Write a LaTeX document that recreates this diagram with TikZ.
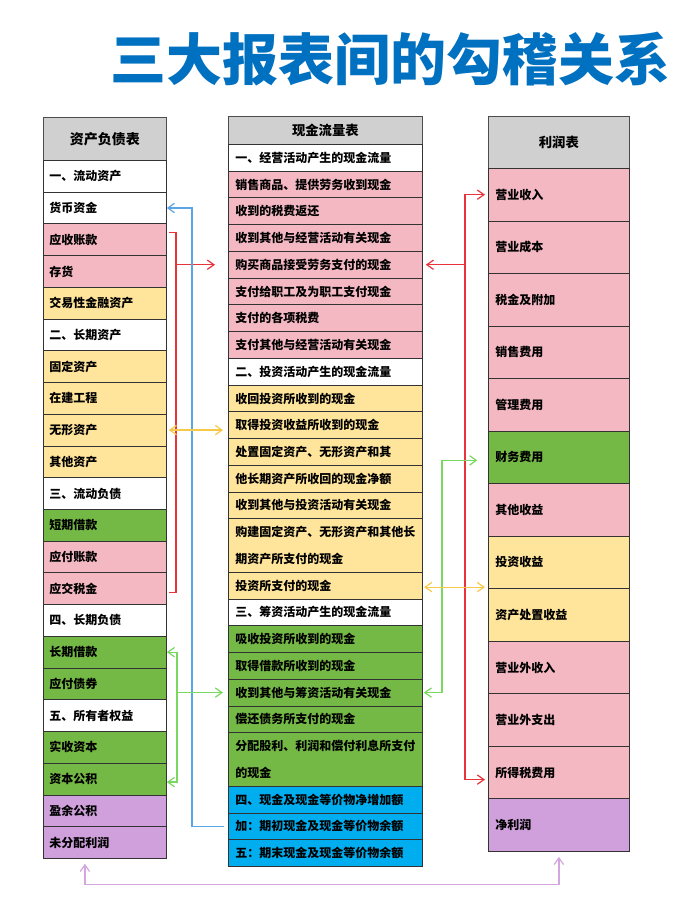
\documentclass[tikz,border=0pt]{standalone}
\usepackage{fontspec}
\newfontfamily\cjk{Noto Sans CJK SC}
\usetikzlibrary{arrows.meta,calc}
\definecolor{pinkc}{HTML}{F4B8C3}
\definecolor{yellowc}{HTML}{FFE59B}
\definecolor{greenc}{HTML}{74B845}
\definecolor{bluec}{HTML}{00AEEF}
\definecolor{purplec}{HTML}{CFA0DC}
\definecolor{headc}{HTML}{D0D0D0}
\definecolor{titlec}{HTML}{0070C0}
\definecolor{cred}{HTML}{E8333A}
\definecolor{cblue}{HTML}{5AA5E6}
\definecolor{cyellow}{HTML}{F7C948}
\definecolor{cgreen}{HTML}{78D860}
\definecolor{cpurple}{HTML}{D4A6E0}
\begin{document}
\begin{tikzpicture}[x=0.75pt,y=-0.75pt,
  >={Straight Barb[length=5pt,width=7pt]},
  cellbase/.style={draw=black!80, line width=0.6pt, anchor=north west, inner ysep=0pt, align=left,
    font=\cjk\bfseries\fontsize{9pt}{20.06pt}\selectfont},
  lcell/.style={cellbase, minimum width=92.25pt, minimum height=23.8pt, inner xsep=4.5pt, text width=83.25pt},
  mcell/.style={cellbase, minimum width=145.5pt, inner xsep=5.25pt, text width=135pt},
  rcell/.style={cellbase, minimum width=105.75pt, minimum height=39.4pt, inner xsep=5.25pt, text width=95.25pt},
  headbox/.style={draw=black!70, fill=headc, line width=0.6pt, anchor=north west, inner sep=0pt,
    font=\cjk\bfseries\fontsize{10pt}{12pt}\selectfont},
  link/.style={line width=0.9pt},
  rline/.style={link, draw=cred},
  bline/.style={link, draw=cblue},
  yline/.style={link, draw=cyellow},
  gline/.style={link, draw=cgreen},
  pline/.style={link, draw=cpurple},
]
\fill[white] (0,0) rectangle (698,913);
\useasboundingbox (0,0) rectangle (698,913);

\node[font=\cjk\bfseries\fontsize{42pt}{44pt}\selectfont, text=titlec] (title) at (390,59) {三大报表间的勾稽关系};

% Left column
\node[headbox, minimum width=92.25pt, minimum height=32.25pt, font=\cjk\bfseries\fontsize{10.5pt}{12pt}\selectfont] (LH) at (43,117) {资产负债表};
\foreach \c/\t [count=\i] in {white/{一、流动资产}, white/{货币资金}, pinkc/{应收账款}, pinkc/{存货},
  yellowc/{交易性金融资产}, white/{二、长期资产}, yellowc/{固定资产}, yellowc/{在建工程},
  yellowc/{无形资产}, yellowc/{其他资产}, white/{三、流动负债}, greenc/{短期借款},
  pinkc/{应付账款}, pinkc/{应交税金}, white/{四、长期负债}, greenc/{长期借款},
  greenc/{应付债券}, white/{五、所有者权益}, greenc/{实收资本}, greenc/{资本公积},
  purplec/{盈余公积}, purplec/{未分配利润}} {
  \pgfmathsetmacro\yy{160+(\i-1)*31.727}
  \node[lcell, fill=\c] (L\i) at (43,\yy) {\t};
}

% Middle column
\node[headbox, minimum width=145.5pt, minimum height=21pt] (MH) at (228,116) {现金流量表};
\foreach \c/\s/\n/\t [count=\i] in {
  white/0/1/{一、经营活动产生的现金流量},
  pinkc/1/1/{销售商品、提供劳务收到现金},
  pinkc/2/1/{收到的税费返还},
  pinkc/3/1/{收到其他与经营活动有关现金},
  pinkc/4/1/{购买商品接受劳务支付的现金},
  pinkc/5/1/{支付给职工及为职工支付现金},
  pinkc/6/1/{支付的各项税费},
  pinkc/7/1/{支付其他与经营活动有关现金},
  white/8/1/{二、投资活动产生的现金流量},
  yellowc/9/1/{收回投资所收到的现金},
  yellowc/10/1/{取得投资收益所收到的现金},
  yellowc/11/1/{处置固定资产、无形资产和其},
  yellowc/12/1/{他长期资产所收回的现金净额},
  yellowc/13/1/{收到其他与投资活动有关现金},
  yellowc/14/2/{购建固定资产、无形资产和其他长\\期资产所支付的现金},
  yellowc/16/1/{投资所支付的现金},
  white/17/1/{三、筹资活动产生的现金流量},
  greenc/18/1/{吸收投资所收到的现金},
  greenc/19/1/{取得借款所收到的现金},
  greenc/20/1/{收到其他与筹资活动有关现金},
  greenc/21/1/{偿还债务所支付的现金},
  greenc/22/2/{分配股利、利润和偿付利息所支付\\的现金},
  bluec/24/1/{四、现金及现金等价物净增加额},
  bluec/25/1/{加：期初现金及现金等价物余额},
  bluec/26/1/{五：期末现金及现金等价物余额}} {
  \pgfmathsetmacro\yy{144+\s*26.74}
  \pgfmathsetmacro\hh{\n*20.055}
  \node[mcell, fill=\c, minimum height=\hh pt] (M\i) at (228,\yy) {\t};
}

% Right column
\node[headbox, minimum width=105.75pt, minimum height=39pt] (RH) at (488,116) {利润表};
\foreach \c/\t [count=\i] in {pinkc/{营业收入}, pinkc/{营业成本}, pinkc/{税金及附加}, pinkc/{销售费用},
  pinkc/{管理费用}, greenc/{财务费用}, pinkc/{其他收益}, yellowc/{投资收益}, yellowc/{资产处置收益},
  pinkc/{营业外收入}, pinkc/{营业外支出}, pinkc/{所得税费用}, purplec/{净利润}} {
  \pgfmathsetmacro\yy{168+(\i-1)*52.54}
  \node[rcell, fill=\c] (R\i) at (488,\yy) {\t};
}

% bend positions
\coordinate (xa) at (176,0);
\coordinate (xb) at (192,0);
\coordinate (xc) at (177,0);
\coordinate (xd) at (465,0);
\coordinate (xe) at (442,0);

% red, left bracket
\draw[rline] ($(L3.east)+(2,-7)$) -- ($(L3.east -| xa)+(0,-7)$) -- ($(L14.east -| xa)+(0,4)$) -- ($(L14.east)+(2,4)$);
\draw[rline, ->, shorten >=9.75pt] (xa |- M5.west) -- (M5.west);

% blue
\draw[bline, ->] ($(M24.west)+(-4,0)$) -- (M24.west -| xb) -- (L2.east -| xb) -- (L2.east);

% yellow left
\draw[yline, <->, shorten <=1.5pt, shorten >=3.75pt] (L9.east) -- (L9.east -| M11.west);

% green left
\draw[gline, <->] (L16.east) -- (L16.east -| xc) -- ($(L20.east -| xc)+(0,3)$) -- ($(L20.east)+(0,3)$);
\draw[gline, ->, shorten >=3.75pt] (xc |- M20.west) -- (M20.west);

% red right
\draw[rline, <->, shorten <=2.25pt, shorten >=2.25pt] (R1.west) -- (R1.west -| xd) -- ($(R12.west -| xd)+(0,7)$) -- ($(R12.west)+(0,7)$);
\draw[rline, ->, shorten >=2.25pt] (xd |- M5.east) -- (M5.east);

% green right
\draw[gline, <->, shorten <=0.75pt, shorten >=8pt] (M20.east) -- (M20.east -| xe) -- ($(R6.west -| xe)+(0,3)$) -- ($(R6.west)+(0,3)$);

% yellow right
\draw[yline, <->, shorten <=1pt, shorten >=2.25pt] ($(M16.east)+(0,1.5)$) -- ($(M16.east -| R8.west)+(0,1.5)$);

% purple
\draw[pline, <->, shorten <=3.75pt, shorten >=3.75pt] ($(L22.south)+(-20,0)$) -- ++(0,26) -| (R13.south);
\end{tikzpicture}
\end{document}
